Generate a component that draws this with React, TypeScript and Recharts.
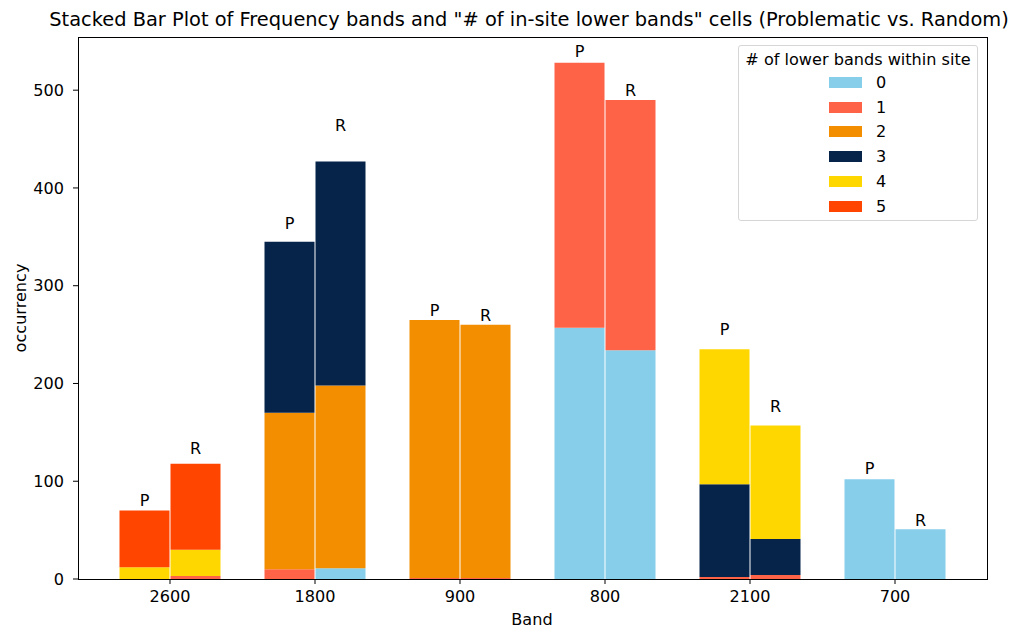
import { Bar, BarChart, LabelList, XAxis, YAxis } from 'recharts'

const bands = ['2600', '1800', '900', '800', '2100', '700']
const levels = ['0', '1', '2', '3', '4', '5']
const levelColors = ['#87CEEB', '#FF6347', '#F28E00', '#06234A', '#FFD700', '#FF4500']

// counts per "# of lower bands" level, one value per band
const problematic = [
  [0, 0, 0, 257, 0, 102],
  [0, 10, 1, 271, 2, 0],
  [0, 160, 264, 0, 0, 0],
  [0, 175, 0, 0, 95, 0],
  [12, 0, 0, 0, 138, 0],
  [58, 0, 0, 0, 0, 0],
]
const random = [
  [0, 11, 0, 234, 0, 51],
  [3, 0, 1, 256, 4, 0],
  [0, 187, 259, 0, 0, 0],
  [0, 229, 0, 0, 37, 0],
  [27, 0, 0, 0, 116, 0],
  [88, 0, 0, 0, 0, 0],
]
// heights at which the P / R labels sit
const pLabelAt = [75, 358, 269, 534, 250, 107]
const rLabelAt = [128, 458, 264, 494, 171, 54]

const yTicks = [0, 100, 200, 300, 400, 500]

const total = (rows: number[][], i: number) => rows.reduce((s, r) => s + r[i], 0)

const data = bands.map((band, i) => {
  const row: Record<string, string | number> = { band }
  levels.forEach((_, l) => {
    row['p' + l] = problematic[l][i]
    row['r' + l] = random[l][i]
  })
  row.pPad = pLabelAt[i] - total(problematic, i)
  row.rPad = rLabelAt[i] - total(random, i)
  return row
})

const font = 'DejaVu Sans, sans-serif'
const fs = 16.1

export default function App() {
  return (
    <div style={{ position: 'absolute', left: 0, top: 0, width: 1017, height: 632, background: '#fff', fontFamily: font, color: '#000' }}>
      <div style={{ position: 'absolute', left: 0, width: 1058, top: 8, textAlign: 'center', fontSize: 19.4, whiteSpace: 'nowrap' }}>
        Stacked Bar Plot of Frequency bands and "# of in-site lower bands" cells (Problematic vs. Random)
      </div>
      <BarChart
        width={1017}
        height={632}
        data={data}
        margin={{ top: 37, right: 30, bottom: 0, left: 0 }}
        barSize={50}
        barGap={1}
      >
        <XAxis
          dataKey="band"
          height={53}
          padding={{ left: 19.5, right: 19.5 }}
          axisLine={false}
          tickLine={{ stroke: '#000' }}
          tickSize={5}
          tickMargin={7}
          tick={{ fill: '#000', fontSize: fs }}
        />
        <YAxis
          width={78}
          domain={[0, 554.4]}
          ticks={yTicks}
          axisLine={false}
          tickLine={{ stroke: '#000' }}
          tickSize={5}
          tickMargin={9}
          tick={{ fill: '#000', fontSize: fs }}
        />
        {levels.map((l, k) => (
          <Bar key={'p' + l} dataKey={'p' + l} stackId="P" fill={levelColors[k]} isAnimationActive={false} />
        ))}
        <Bar dataKey="pPad" stackId="P" fill="transparent" isAnimationActive={false}>
          <LabelList position="top" offset={0} content={(props: any) => (
            <text x={props.x + props.width / 2} y={props.y} textAnchor="middle" fontSize={fs} fill="#000">P</text>
          )} />
        </Bar>
        {levels.map((l, k) => (
          <Bar key={'r' + l} dataKey={'r' + l} stackId="R" fill={levelColors[k]} isAnimationActive={false} />
        ))}
        <Bar dataKey="rPad" stackId="R" fill="transparent" isAnimationActive={false}>
          <LabelList position="top" offset={0} content={(props: any) => (
            <text x={props.x + props.width / 2} y={props.y} textAnchor="middle" fontSize={fs} fill="#000">R</text>
          )} />
        </Bar>
      </BarChart>
      <div style={{ position: 'absolute', left: 78, top: 37, width: 910, height: 543, boxSizing: 'border-box', border: '1px solid #000', pointerEvents: 'none' }} />
      <div style={{ position: 'absolute', left: 0, width: 1064, top: 610, textAlign: 'center', fontSize: fs }}>Band</div>
      <div style={{ position: 'absolute', left: 20, top: 308, transform: 'translate(-50%, -50%) rotate(-90deg)', fontSize: fs, whiteSpace: 'nowrap' }}>occurrency</div>
      <div style={{ position: 'absolute', left: 738, top: 45, width: 240, height: 176, boxSizing: 'border-box', border: '1px solid #d6d6d6', borderRadius: 3, background: 'rgba(255,255,255,0.8)', fontSize: fs }}>
        <div style={{ position: 'absolute', left: 0, width: '100%', top: 4, textAlign: 'center', whiteSpace: 'nowrap' }}># of lower bands within site</div>
        {levels.map((l, k) => (
          <div key={l} style={{ position: 'absolute', left: 90, top: 31 + k * 24.7, height: 11, display: 'flex', alignItems: 'center' }}>
            <span style={{ display: 'inline-block', width: 33, height: 11, background: levelColors[k] }} />
            <span style={{ marginLeft: 14 }}>{l}</span>
          </div>
        ))}
      </div>
    </div>
  )
}
